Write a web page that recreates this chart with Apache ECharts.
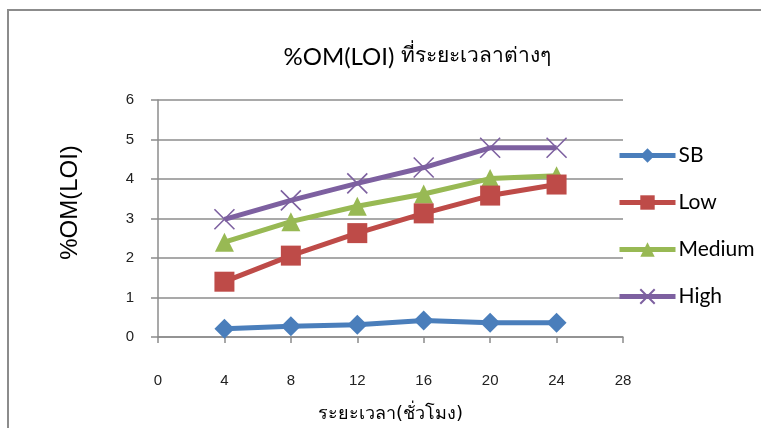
<!DOCTYPE html>
<html>
<head>
<meta charset="utf-8">
<script src="https://cdn.jsdelivr.net/npm/echarts@6/dist/echarts.min.js"></script>
<style>
  html, body { margin: 0; padding: 0; background: #fff; }
  #chart { width: 761px; height: 428px; }
</style>
</head>
<body>
<div id="chart"></div>
<script>
// Sampling time (hours)
const hours = [4, 8, 12, 16, 20, 24];
// %OM (LOI) per treatment
const sb = [0.21, 0.27, 0.31, 0.42, 0.36, 0.36];
const low = [1.40, 2.06, 2.63, 3.13, 3.58, 3.86];
const medium = [2.40, 2.92, 3.31, 3.62, 4.01, 4.08];
const high = [2.98, 3.46, 3.89, 4.29, 4.79, 4.79];

const seriesNames = ['SB', 'Low', 'Medium', 'High'];
const seriesValues = [sb, low, medium, high];
const colors = ['#4a7ebb', '#be4b48', '#98b954', '#7d60a0'];
const symbols = [
  'diamond',
  'rect',
  'triangle',
  'path://M0,0L10,10M10,0L0,10'
];
const symbolSizes = [20, 20, 19, 20];

const chart = echarts.init(document.getElementById('chart'));

const series = seriesNames.map((name, i) => {
  const isCross = i === 3;
  return {
    name: name,
    type: 'line',
    data: hours.map((h, k) => [h, seriesValues[i][k]]),
    symbol: symbols[i],
    symbolSize: symbolSizes[i],
    showAllSymbol: true,
    z: 10 - i,
    lineStyle: { color: colors[i], width: 5 },
    itemStyle: isCross
      ? { color: 'none', borderColor: colors[i], borderWidth: 1.6 }
      : { color: colors[i], borderWidth: 0 },
    emphasis: { disabled: true }
  };
});

chart.setOption({
  animation: false,
  backgroundColor: '#fff',
  graphic: [{
    type: 'rect',
    shape: { x: 8, y: 10, width: 800, height: 500 },
    style: { fill: 'none', stroke: '#8c8c8c', lineWidth: 2 },
    silent: true
  }],
  title: {
    text: '{a|%OM(LOI) }{b|ที่ระยะเวลาต่างๆ}',
    left: 412,
    textAlign: 'center',
    top: 40,
    textStyle: {
      fontWeight: 'normal',
      rich: {
        a: { fontFamily: 'Lato, sans-serif', fontSize: 24, fontWeight: 'normal', color: '#000' },
        b: { fontFamily: 'Tahoma, "DejaVu Sans", sans-serif', fontSize: 21, fontWeight: 'normal', color: '#000' }
      }
    }
  },
  legend: {
    orient: 'vertical',
    left: 612,
    top: 140,
    itemGap: 26,
    itemWidth: 56,
    itemHeight: 18,
    lineStyle: { width: 5 },
    textStyle: { fontFamily: 'Lato, sans-serif', fontSize: 21, color: '#000', padding: [0, 0, 0, -2] },
    data: seriesNames
  },
  grid: { left: 158, width: 465, top: 100, height: 240, containLabel: false },
  xAxis: {
    type: 'value',
    min: 0,
    max: 28,
    interval: 4,
    name: 'ระยะเวลา(ชั่วโมง)',
    nameLocation: 'middle',
    nameGap: 68,
    nameTextStyle: { fontFamily: 'Tahoma, "DejaVu Sans", sans-serif', fontSize: 18, color: '#000' },
    axisLine: { show: true, lineStyle: { color: '#8c8c8c', width: 1.5 } },
    axisTick: { show: true, inside: false, length: 6, lineStyle: { color: '#8c8c8c', width: 1.5 } },
    axisLabel: { margin: 36, fontFamily: '"Liberation Sans Narrow", "Liberation Sans", sans-serif', fontSize: 15, color: '#222' },
    splitLine: { show: false }
  },
  yAxis: {
    type: 'value',
    min: 0,
    max: 6,
    interval: 1,
    name: '%OM(LOI)',
    nameLocation: 'middle',
    nameRotate: 90,
    nameGap: 76,
    nameTextStyle: { fontFamily: '"Liberation Sans", sans-serif', fontSize: 24, color: '#000', padding: [0, 0, 0, 32] },
    axisLine: { show: true, lineStyle: { color: '#8c8c8c', width: 1.5 } },
    axisTick: { show: true, inside: false, length: 7, lineStyle: { color: '#8c8c8c', width: 1.5 } },
    axisLabel: { margin: 24, fontFamily: '"Liberation Sans", sans-serif', fontSize: 15, color: '#222' },
    splitLine: { show: true, lineStyle: { color: '#8c8c8c', width: 1.5 } }
  },
  series: series
});
</script>
</body>
</html>
